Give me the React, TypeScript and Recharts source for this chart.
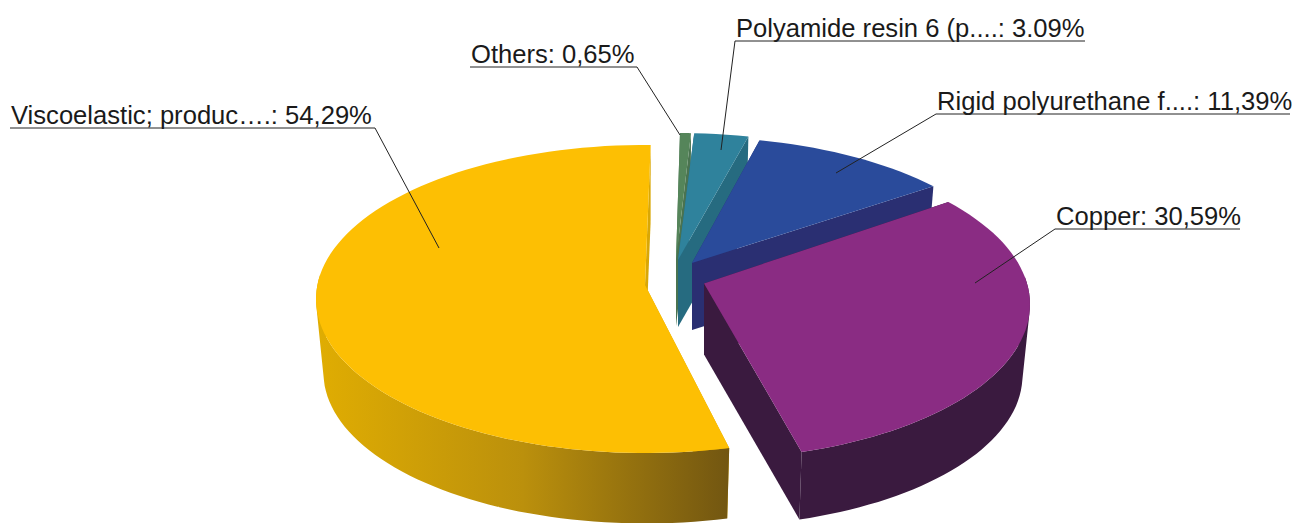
import { PieChart, Pie } from "recharts";

const categories = ["Others", "Polyamide resin 6", "Rigid polyurethane foam", "Copper", "Viscoelastic"];
const values = [0.65, 3.09, 11.39, 30.59, 54.29];
const labels = [
  "Others: 0,65%",
  "Polyamide resin 6 (p....: 3.09%",
  "Rigid polyurethane f....: 11,39%",
  "Copper: 30,59%",
  "Viscoelastic; produc….: 54,29%",
];
const topColors = ["#55855a", "#2f829c", "#2a4b9b", "#8a2c83", "#fdbf03"];
const wallColors = ["#4a7350", "#266b80", "#2a2f72", "#3a1a3f", "url(#yellowWall)"];
const cutColors = ["#4a7350", "#266b80", "#2a2f72", "#3a1a3f", "#d9a705"];

const data = categories.map((name, i) => ({ name, value: values[i] }));

const CX = 660;
const CY = 295;
const R = 150;

// exploded offset, ellipse size, apex lift, wall depth and angle nudges for the fake 3D look
const slices = [
  { dx: 16, dy: -12, rx: 326, ry: 150, lift: 23, depth: 66, n0: 0.3, n1: 0.7 },
  { dx: 18, dy: -12, rx: 326, ry: 150, lift: 23, depth: 67, n0: 0.5, n1: 2 },
  { dx: 32, dy: -8, rx: 326, ry: 150, lift: 24, depth: 67, n0: 2.5, n1: 7.7 },
  { dx: 44, dy: 9.4, rx: 326, ry: 154.6, lift: 21, depth: 71, n0: 6.9, n1: 3 },
  { dx: -15, dy: 4, rx: 329, ry: 154, lift: 14, depth: 74, n0: 0.4, n1: 0 },
];

// text start, underline end, which end the leader leaves from, leader tip
const callouts = [
  { x: 470, y: 67, x2: 637, ax: 637, px: 680, py: 135 },
  { x: 735, y: 41, x2: 1085, ax: 735, px: 721, py: 150 },
  { x: 936, y: 114, x2: 1290, ax: 936, px: 836, py: 173 },
  { x: 1055, y: 229, x2: 1240, ax: 1055, px: 975, py: 283 },
  { x: 10, y: 128, x2: 375, ax: 375, px: 439, py: 248 },
];

const WALL_SHRINK = 0.977;

function toPath(points: number[][]) {
  return "M" + points.map((p) => `${p[0].toFixed(1)},${p[1].toFixed(1)}`).join("L") + "Z";
}

// same winding for every quad, otherwise overlaps cancel out under nonzero fill
function quadPath(q: number[][]) {
  let area = 0;
  q.forEach((p, i) => {
    const n = q[(i + 1) % q.length];
    area += p[0] * n[1] - n[0] * p[1];
  });
  return toPath(area < 0 ? q.slice().reverse() : q);
}

function Slice3D(props: any) {
  const i = props.index;
  const s = slices[i];
  const ox = props.cx + s.dx;
  const oy = props.cy + s.dy;
  const a0 = props.startAngle + s.n0;
  const a1 = props.endAngle + s.n1;
  const steps = Math.max(4, Math.ceil(Math.abs(a1 - a0) / 2));
  const top: number[][] = [];
  const bottom: number[][] = [];
  const angles: number[] = [];
  for (let k = 0; k <= steps; k++) {
    const t = ((a0 + ((a1 - a0) * k) / steps) * Math.PI) / 180;
    angles.push(t);
    top.push([ox + s.rx * Math.cos(t), oy - s.ry * Math.sin(t)]);
    bottom.push([
      ox + s.rx * WALL_SHRINK * Math.cos(t),
      oy + s.depth - s.ry * WALL_SHRINK * Math.sin(t),
    ]);
  }
  const apex = [ox, oy - s.lift];
  const apexLow = [ox, oy - s.lift + s.depth];
  const first = top[0];
  const firstLow = bottom[0];
  const last = top[top.length - 1];
  const lastLow = bottom[bottom.length - 1];

  // outer wall as quads, only on the side facing the viewer
  let wall = "";
  for (let k = 0; k < steps; k++) {
    if (Math.sin(angles[k]) > 0.15 && Math.sin(angles[k + 1]) > 0.15) continue;
    wall += quadPath([top[k], top[k + 1], bottom[k + 1], bottom[k]]);
  }

  return (
    <g>
      <defs>
        <linearGradient id="yellowWall" x1="0" y1="0" x2="1" y2="0">
          <stop offset="0%" stopColor="#e0ad02" />
          <stop offset="50%" stopColor="#bb900c" />
          <stop offset="100%" stopColor="#725611" />
        </linearGradient>
      </defs>
      <path d={toPath([apex, first, firstLow, apexLow])} fill={cutColors[i]} />
      <path d={toPath([apex, last, lastLow, apexLow])} fill={cutColors[i]} />
      {wall && <path d={wall} fill={wallColors[i]} />}
      <path d={toPath([apex, ...top])} fill={topColors[i]} />
    </g>
  );
}

function Callout(props: any) {
  const c = callouts[props.index];
  return (
    <g>
      <text
        x={c.x + 1}
        y={c.y - 4}
        fontFamily="Liberation Sans, Arial, sans-serif"
        fontSize={25.6}
        fill="#1a1a1a"
        textAnchor="start"
      >
        {labels[props.index]}
      </text>
      <line x1={c.x} y1={c.y} x2={c.x2} y2={c.y} stroke="#222222" strokeWidth={1} />
      <line x1={c.ax} y1={c.y} x2={c.px} y2={c.py} stroke="#222222" strokeWidth={1} />
    </g>
  );
}

export default function App() {
  return (
    <div style={{ position: "absolute", left: 0, top: 0, width: 1296, height: 523, overflow: "hidden", background: "#ffffff" }}>
      <PieChart width={1296} height={523} margin={{ top: 0, right: 0, bottom: 0, left: 0 }}>
        <Pie
          data={data}
          dataKey="value"
          nameKey="name"
          cx={CX}
          cy={CY}
          innerRadius={0}
          outerRadius={R}
          startAngle={89}
          endAngle={-271}
          shape={Slice3D}
          label={Callout}
          labelLine={false}
          isAnimationActive={false}
        />
      </PieChart>
    </div>
  );
}
